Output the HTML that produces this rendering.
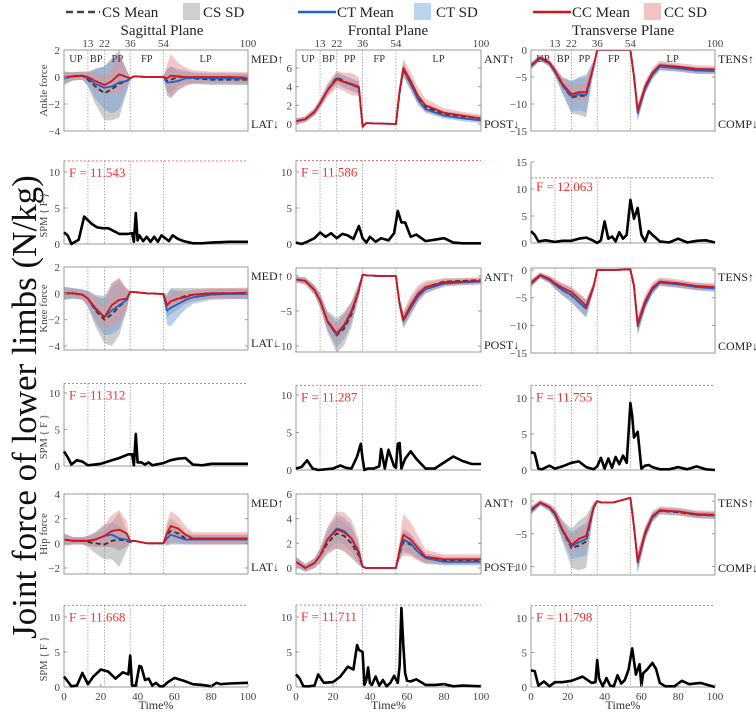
<!DOCTYPE html>
<html><head><meta charset="utf-8"><style>
body{margin:0;background:#fff;}
svg{display:block;font-family:"Liberation Serif",serif;}
</style></head><body>
<svg id="chart" width="756" height="714" viewBox="0 0 756 714" xmlns="http://www.w3.org/2000/svg">
<g font-size="15" fill="#222">
 <line x1="66" y1="12" x2="100" y2="12" stroke="#444" stroke-width="2.5" stroke-dasharray="7,4"/><text x="102" y="17">CS Mean</text>
 <rect x="183" y="3" width="17" height="17" fill="#cfcfcf"/><text x="203" y="17">CS SD</text>
 <line x1="298" y1="12" x2="336" y2="12" stroke="#1f62c8" stroke-width="2.5"/><text x="337" y="17">CT Mean</text>
 <rect x="414" y="3" width="17" height="17" fill="#bcd5ee"/><text x="436" y="17">CT SD</text>
 <line x1="533" y1="12" x2="571" y2="12" stroke="#d4141a" stroke-width="2.5"/><text x="572" y="17">CC Mean</text>
 <rect x="644" y="3" width="17" height="17" fill="#f2c3c3"/><text x="664" y="17">CC SD</text>
</g>
<g font-size="15" fill="#222" text-anchor="middle">
 <text x="162" y="35">Sagittal Plane</text>
 <text x="388" y="35">Frontal Plane</text>
 <text x="623" y="35">Transverse Plane</text>
</g>
<text transform="translate(36,407) rotate(-90)" text-anchor="middle" font-size="35" fill="#111">Joint force of lower limbs (N/kg)</text>
<g id="plots"></g>
</svg>
<script>
const T = [0,5,10,13,17,22,26,30,34,36,38,45,54,56,58,62,66,70,80,90,100];
const phases = [13,22,36,54];
// ankle sagittal
const aSagCS=[-0.1,0.05,0.1,-0.2,-0.7,-1.2,-0.9,-0.5,-0.3,-0.1,0.05,0,0,-0.3,-0.2,0,0,-0.1,-0.2,-0.2,-0.2];
const aSagCSsd=[0.5,0.3,0.3,0.5,1.3,2.0,2.3,2.5,0.8,0.1,0.05,0.05,0.05,0.8,1.0,0.6,0.5,0.4,0.4,0.4,0.4];
const aSagCT=[-0.1,0.05,0.1,-0.1,-0.5,-0.8,-0.7,-0.4,-0.3,-0.1,0.05,0,0,-0.4,-0.4,-0.3,-0.1,-0.05,-0.1,-0.1,-0.15];
const aSagCTsd=[0.4,0.3,0.3,0.5,1.1,1.6,2.0,2.0,0.8,0.1,0.05,0.05,0.05,1.0,1.2,0.7,0.5,0.4,0.4,0.4,0.4];
const aSagCC=[0,0.05,0.1,0,-0.3,-0.6,-0.3,0.2,0,-0.1,0.05,0,0,-0.1,0.1,0.05,0,0,0,0,-0.05];
const aSagCCsd=[0.4,0.3,0.3,0.4,0.6,0.7,0.9,1.5,0.5,0.1,0.05,0.05,0.05,1.0,1.6,1.0,0.7,0.5,0.4,0.4,0.4];
// ankle frontal
const aFrCS=[0.3,0.5,1.3,2.2,3.6,5.0,4.6,4.2,3.9,-0.3,0.1,0.05,0,3.3,5.8,4.3,2.8,1.8,1.1,0.8,0.6];
const aFrCSsd=[0.3,0.3,0.4,0.4,0.5,0.5,0.6,0.6,0.6,0.2,0.1,0.05,0.05,0.5,0.6,0.6,0.5,0.4,0.3,0.3,0.3];
const aFrCT=[0.3,0.5,1.3,2.2,3.6,4.9,4.5,4.2,3.9,-0.3,0.1,0.05,0,3.4,5.9,4.3,2.6,1.6,0.9,0.6,0.4];
const aFrCTsd=[0.3,0.3,0.4,0.5,0.6,0.6,0.7,0.7,0.7,0.2,0.1,0.05,0.05,0.6,0.7,0.7,0.6,0.4,0.3,0.3,0.3];
const aFrCC=[0.3,0.5,1.3,2.2,3.6,4.8,4.5,4.3,4.0,-0.3,0.1,0.05,0,3.6,6.0,4.6,3.0,2.0,1.2,0.9,0.6];
const aFrCCsd=[0.3,0.3,0.4,0.5,0.7,0.9,1.0,1.2,1.0,0.2,0.1,0.05,0.05,0.6,1.0,1.0,0.9,0.7,0.5,0.4,0.4];
// ankle transverse
const aTrCS=[-3,-1.5,-2.5,-4,-6.5,-8.8,-8.5,-8.5,-3,0,0,0,0,-5,-11.5,-7,-4.5,-3,-3.4,-3.8,-3.8];
const aTrCSsd=[0.6,0.5,0.6,0.8,1.5,3.0,3.5,4.0,1.0,0.1,0.05,0.05,0.05,1.0,1.2,1.0,0.8,0.7,0.6,0.6,0.6];
const aTrCT=[-3,-1.5,-2.5,-4,-6.5,-8.6,-8.2,-8.3,-3,0,0,0,0,-5,-11.7,-7.2,-4.6,-3.1,-3.4,-3.8,-3.9];
const aTrCTsd=[0.6,0.5,0.6,0.8,1.4,2.8,3.0,3.2,1.0,0.1,0.05,0.05,0.05,1.0,1.5,1.0,0.8,0.7,0.6,0.6,0.6];
const aTrCC=[-2.8,-1.4,-2.3,-3.8,-6.2,-8.2,-7.8,-7.8,-3,0,0,0,0,-4.8,-11.2,-6.8,-4.2,-2.8,-3.1,-3.5,-3.6];
const aTrCCsd=[0.6,0.5,0.6,0.8,1.0,1.3,1.5,1.7,1.0,0.1,0.05,0.05,0.05,1.0,1.2,1.0,0.9,0.8,0.7,0.7,0.7];
// knee sagittal
const kSagCS=[0,0,-0.1,-0.4,-1.3,-2.0,-1.6,-1.0,-0.5,0.1,0.1,0,-0.05,-0.9,-0.6,-0.4,-0.2,-0.1,0,0,-0.05];
const kSagCSsd=[0.5,0.4,0.4,0.6,1.2,1.8,2.4,2.2,0.8,0.1,0.05,0.05,0.05,0.9,1.0,0.8,0.6,0.5,0.4,0.4,0.4];
const kSagCT=[0,0,-0.1,-0.4,-1.2,-1.8,-1.3,-0.9,-0.5,0.1,0.1,0,-0.05,-1.3,-1.1,-0.8,-0.5,-0.3,-0.1,-0.05,-0.05];
const kSagCTsd=[0.5,0.4,0.4,0.6,1.0,1.4,1.8,1.8,0.8,0.1,0.05,0.05,0.05,1.1,1.4,1.0,0.7,0.5,0.4,0.4,0.4];
const kSagCC=[0,0,-0.1,-0.4,-1.1,-1.8,-0.9,-0.5,-0.4,0.1,0.1,0,-0.05,-0.9,-0.6,-0.4,-0.3,-0.1,0,0,0.05];
const kSagCCsd=[0.4,0.3,0.3,0.5,0.8,0.9,1.6,1.6,0.8,0.1,0.05,0.05,0.05,0.6,0.6,0.5,0.4,0.4,0.4,0.4,0.4];
// knee frontal
const kFrCS=[-0.5,-0.7,-2,-3.5,-6.5,-8.5,-7.5,-5.5,-2,0.2,0.1,0,0,-4,-6.2,-4.3,-2.6,-1.6,-0.8,-0.7,-0.6];
const kFrCSsd=[0.4,0.5,0.7,1.0,1.5,2.5,2.4,1.8,1.0,0.1,0.05,0.05,0.05,0.8,1.0,1.0,0.8,0.6,0.4,0.4,0.4];
const kFrCT=[-0.5,-0.7,-2,-3.5,-6.5,-8.4,-7.2,-5.2,-2,0.2,0.1,0,0,-4,-6.4,-4.6,-2.9,-1.9,-1.1,-0.9,-0.8];
const kFrCTsd=[0.4,0.5,0.7,1.0,1.3,1.8,1.8,1.5,1.0,0.1,0.05,0.05,0.05,0.8,1.1,1.0,0.8,0.6,0.4,0.4,0.4];
const kFrCC=[-0.5,-0.7,-2,-3.5,-6.4,-8.2,-7.0,-5.0,-2,0.2,0.1,0,0,-4,-6.2,-4.2,-2.5,-1.6,-0.9,-0.8,-0.7];
const kFrCCsd=[0.4,0.5,0.7,1.0,1.2,1.3,1.4,1.4,1.0,0.1,0.05,0.05,0.05,0.8,1.2,1.4,1.2,0.9,0.6,0.5,0.5];
// knee transverse
const kTrCS=[-2.5,-1,-1.8,-2.6,-3.6,-4.6,-5.8,-7.0,-3,0,0,0,0.1,-3,-10,-6,-3.5,-2.2,-2.6,-3,-3.2];
const kTrCSsd=[0.6,0.5,0.6,0.8,1.0,1.3,1.5,1.6,0.8,0.1,0.05,0.05,0.05,1.0,1.5,1.0,0.8,0.6,0.6,0.6,0.6];
const kTrCT=[-2.5,-1,-1.8,-2.6,-3.6,-4.5,-5.8,-7.0,-3,0,0,0,0.1,-3,-10.2,-6.2,-3.6,-2.3,-2.6,-3.1,-3.3];
const kTrCTsd=[0.6,0.5,0.6,0.8,1.0,1.2,1.4,1.5,0.8,0.1,0.05,0.05,0.05,1.0,1.6,1.0,0.8,0.6,0.6,0.6,0.6];
const kTrCC=[-2.3,-0.9,-1.6,-2.4,-3.2,-4.0,-5.2,-6.5,-3,0,0,0,0.1,-2.8,-9.8,-5.6,-3.2,-2.1,-2.4,-2.9,-3.1];
const kTrCCsd=[0.6,0.5,0.6,0.8,0.9,1.0,1.1,1.2,0.8,0.1,0.05,0.05,0.05,1.0,1.4,1.2,1.0,0.8,0.7,0.7,0.7];
// hip sagittal
const hSagCS=[0.3,0.2,0.2,0.1,0,-0.1,0.2,0.3,0.2,0.1,0.2,0,0,0.7,1.0,0.8,0.4,0.3,0.3,0.3,0.3];
const hSagCSsd=[0.5,0.3,0.3,0.4,0.8,1.2,1.5,2.2,0.8,0.1,0.05,0.05,0.05,0.8,1.0,0.8,0.5,0.4,0.4,0.4,0.4];
const hSagCT=[0.3,0.2,0.2,0.2,0.3,0.6,0.7,0.4,0.3,0.1,0.2,0,0,0.4,0.7,0.5,0.3,0.3,0.3,0.3,0.3];
const hSagCTsd=[0.4,0.3,0.3,0.4,0.6,0.9,1.0,1.0,0.6,0.1,0.05,0.05,0.05,0.6,0.8,0.6,0.4,0.4,0.4,0.4,0.4];
const hSagCC=[0.3,0.2,0.2,0.2,0.3,0.6,1.0,1.1,0.8,0.2,0.2,0,0,0.8,1.4,1.2,0.7,0.4,0.4,0.4,0.4];
const hSagCCsd=[0.5,0.3,0.3,0.4,0.6,0.9,1.3,1.6,1.0,0.1,0.05,0.05,0.05,0.9,1.2,1.0,0.7,0.5,0.5,0.5,0.5];
// hip frontal
const hFrCS=[0.5,0,0.4,1,2.0,2.8,2.6,2.0,1.0,0.1,0,0,0,1.2,2.1,1.9,1.3,0.8,0.6,0.6,0.6];
const hFrCSsd=[0.4,0.3,0.4,0.6,0.9,1.2,1.2,1.2,0.8,0.1,0.05,0.05,0.05,0.6,0.9,0.8,0.6,0.4,0.3,0.3,0.3];
const hFrCT=[0.5,0,0.4,1,2.3,3.2,3.0,2.4,1.2,0.1,0,0,0,1.3,2.3,2.0,1.3,0.8,0.5,0.5,0.5];
const hFrCTsd=[0.4,0.3,0.4,0.6,0.9,1.1,1.1,1.1,0.8,0.1,0.05,0.05,0.05,0.6,0.9,0.8,0.6,0.4,0.3,0.3,0.3];
const hFrCC=[0.5,0,0.4,1,2.3,3.1,2.9,2.4,1.3,0.1,0,0,0,1.5,2.7,2.3,1.6,0.9,0.7,0.7,0.7];
const hFrCCsd=[0.4,0.3,0.4,0.6,1.0,1.5,1.6,1.5,1.0,0.1,0.05,0.05,0.05,0.8,1.7,1.4,1.0,0.6,0.4,0.4,0.4];
// hip transverse
const hTrCS=[-1.5,-0.3,-1,-2,-4.5,-7.2,-6.8,-6.2,-1,0,-0.2,-0.2,0.5,-4,-9.3,-5,-2.5,-1.5,-1.7,-2.1,-2.2];
const hTrCSsd=[0.6,0.4,0.5,0.8,1.6,3.0,3.8,4.0,0.8,0.1,0.05,0.05,0.05,1.0,1.5,1.0,0.7,0.5,0.5,0.5,0.5];
const hTrCT=[-1.5,-0.3,-1,-2,-4.5,-6.9,-6.3,-5.8,-1,0,-0.2,-0.2,0.5,-4,-9.4,-5.1,-2.5,-1.5,-1.6,-2.1,-2.2];
const hTrCTsd=[0.6,0.4,0.5,0.8,1.4,2.0,2.3,2.5,0.8,0.1,0.05,0.05,0.05,1.0,1.6,1.0,0.7,0.5,0.5,0.5,0.5];
const hTrCC=[-1.3,-0.2,-0.9,-1.8,-4.3,-6.7,-5.8,-5.3,-1,0,-0.2,-0.2,0.5,-3.8,-9.2,-4.8,-2.3,-1.4,-1.6,-2.0,-2.1];
const hTrCCsd=[0.6,0.4,0.5,0.8,1.1,1.3,1.5,1.6,0.8,0.1,0.05,0.05,0.05,1.0,1.3,1.0,0.8,0.6,0.6,0.6,0.6];
// SPM curves
const spm1T=[0,2,4,8,11,13,15,18,21,24,30,35,37,38,39,40,41,43,45,47,49,51,53,55,57,59,62,65,70,75,80,90,100];
const spm1F=[1.6,1.2,0,0.6,3.8,3.3,2.8,2.3,2.2,2.2,1.4,1.4,1.5,0.3,4.3,0.5,1.2,0.4,1.0,0.3,1.0,0.3,1.2,0.8,0.4,1.2,0.7,0.4,0.1,0.1,0.2,0.3,0.3];
const spm2T=[0,3,6,10,13,16,19,22,25,28,31,34,36,38,40,43,46,50,53,55,57,59,62,65,70,75,80,85,90,100];
const spm2F=[0.2,0,0.3,0.8,1.6,1.0,1.5,0.8,1.4,1.2,0.7,2.5,0.8,0.2,1.0,0.3,0.8,0.5,1.5,4.6,3.0,3.0,1.0,1.3,0.4,0.6,0.8,0.2,0.1,0.1];
const spm3T=[0,2,4,8,13,17,22,26,30,34,36,38,40,42,44,46,48,50,52,54,56,58,60,62,64,66,70,75,80,85,90,95,100];
const spm3F=[2.2,1.5,0.3,0.5,0.2,0.4,0.4,0.8,1.0,0.4,0,0.5,4.0,0.8,1.2,0.3,2.0,0.8,1.5,8.0,4.5,6.5,1.5,0.3,2.2,1.5,0.3,0.1,0.8,0.1,0.4,0.5,0.1];
const spm4T=[0,2,4,7,10,13,20,25,30,35,37,38,39,40,42,44,46,48,50,54,58,62,66,70,75,80,90,100];
const spm4F=[2,1.2,0.2,0.8,0.6,0.1,0.3,0.7,1.1,1.6,1.6,0.1,4.4,0.5,0.5,0.2,0.5,0.1,0.2,0.4,0.8,1.0,1.1,0.2,0.1,0.3,0.3,0.3];
const spm5T=[0,3,6,9,12,16,20,24,27,30,33,35,36,37,39,42,45,46,48,50,53,54,55,56,57,59,62,65,70,75,80,85,90,95,100];
const spm5F=[0.2,0.4,1.3,0.2,0,0.1,0.2,0.6,0.3,0.2,1.8,3.5,1.5,0,0.2,0.2,0.5,2.8,0.2,2.7,0.5,0.3,3.5,3.6,0.2,1.5,2.5,1.5,0.2,0.2,1.0,1.8,1.2,0.8,0.8];
const spm6T=[0,2,4,6,10,13,17,22,26,30,34,36,38,40,42,44,46,48,50,52,54,55,56,58,60,62,64,66,70,75,80,85,90,95,100];
const spm6F=[2.5,2.3,0.2,0.1,0.6,0.2,0.5,1.0,1.2,0.4,0.1,0.5,1.7,0.2,1.6,0.3,1.8,0.8,2.0,1.0,9.3,7.5,4.5,5.3,0.2,0.6,0.7,0.4,0.1,0.1,0.4,0.1,0.5,0.1,0];
const spm7T=[0,2,4,7,10,13,16,20,24,28,32,35,36,37,39,41,42,44,46,48,50,52,54,56,60,65,70,75,80,83,85,90,100];
const spm7F=[1.5,0.8,0.1,0.2,2.0,0.4,1.5,2.5,2.2,1.2,2.1,1.8,4.5,0.2,0.2,3.0,2.9,1.0,1.2,0.2,0.6,0.1,0.1,0.6,1.3,0.9,0.4,0.3,0.1,0.6,0.4,0.5,0.6];
const spm8T=[0,2,4,7,10,12,15,20,24,28,31,33,34,36,37,38,39,40,41,43,45,47,49,51,53,55,56,57,58,59,60,62,65,70,75,80,85,90,100];
const spm8F=[1.8,1.2,0.1,0.1,0.2,1.8,0.6,0.7,1.5,2.9,2.5,6.0,5.3,5.0,0.3,1.0,2.8,0.5,0.3,1.5,0.2,1.0,0.1,0.6,1.6,0.6,3.0,11.3,6.0,2.0,0.9,0.8,1.1,0.3,0.3,0.4,0.1,0.2,0.1];
const spm9T=[0,2,4,7,10,13,17,22,28,33,35,36,37,39,41,43,45,47,49,51,53,55,57,59,60,61,63,66,68,70,73,78,82,86,92,100];
const spm9F=[2.4,2.3,0.2,0.8,0.1,0.7,0.7,0.9,1.5,0.6,0.7,3.9,1.2,0.1,1.3,0.2,0.1,1.7,0.5,1.0,2.5,5.6,1.8,3.3,0.2,2.0,2.5,3.5,2.6,0.6,0.1,0.1,0.9,0.4,0.6,0];
const thresholds=[11.543,11.586,12.063,11.312,11.287,11.755,11.668,11.711,11.798];

const NS="http://www.w3.org/2000/svg";
const root=document.getElementById('plots');
function mk(tag,attrs,parent){const e=document.createElementNS(NS,tag);for(const k in attrs)e.setAttribute(k,attrs[k]);(parent||root).appendChild(e);return e;}
const COLS=[[64,248],[296,481],[531,715]];
function xs(c,t){return COLS[c][0]+(COLS[c][1]-COLS[c][0])*t/100;}

const forcePanels=[
 {c:0,top:50,bot:131,vmin:-4,vmax:2,ticks:[2,0,-2,-4],label:'Ankle force',up:'MED↑',dn:'LAT↓',d:[aSagCS,aSagCSsd,aSagCT,aSagCTsd,aSagCC,aSagCCsd],name:'ankle-sagittal'},
 {c:1,top:50,bot:131,vmin:-0.75,vmax:7.93,ticks:[6,4,2,0],up:'ANT↑',dn:'POST↓',d:[aFrCS,aFrCSsd,aFrCT,aFrCTsd,aFrCC,aFrCCsd],name:'ankle-frontal'},
 {c:2,top:50,bot:131,vmin:-15,vmax:0,ticks:[0,-5,-10,-15],up:'TENS↑',dn:'COMP↓',d:[aTrCS,aTrCSsd,aTrCT,aTrCTsd,aTrCC,aTrCCsd],name:'ankle-transverse'},
 {c:0,top:267,bot:350,vmin:-4.3,vmax:2,ticks:[2,0,-2,-4],label:'Knee force',up:'MED↑',dn:'LAT↓',d:[kSagCS,kSagCSsd,kSagCT,kSagCTsd,kSagCC,kSagCCsd],name:'knee-sagittal'},
 {c:1,top:268,bot:352,vmin:-10.86,vmax:1.14,ticks:[0,-5,-10],up:'ANT↑',dn:'POST↓',d:[kFrCS,kFrCSsd,kFrCT,kFrCTsd,kFrCC,kFrCCsd],name:'knee-frontal'},
 {c:2,top:268,bot:353,vmin:-15,vmax:0.36,ticks:[0,-5,-10,-15],up:'TENS↑',dn:'COMP↓',d:[kTrCS,kTrCSsd,kTrCT,kTrCTsd,kTrCC,kTrCCsd],name:'knee-transverse'},
 {c:0,top:494,bot:574,vmin:-2.49,vmax:4,ticks:[4,2,0,-2],label:'Hip force',up:'MED↑',dn:'LAT↓',d:[hSagCS,hSagCSsd,hSagCT,hSagCTsd,hSagCC,hSagCCsd],name:'hip-sagittal'},
 {c:1,top:494,bot:574,vmin:-0.49,vmax:6,ticks:[6,4,2,0],up:'ANT↑',dn:'POST↓',d:[hFrCS,hFrCSsd,hFrCT,hFrCTsd,hFrCC,hFrCCsd],name:'hip-frontal'},
 {c:2,top:494,bot:575,vmin:-11.3,vmax:1.08,ticks:[0,-5,-10],up:'TENS↑',dn:'COMP↓',d:[hTrCS,hTrCSsd,hTrCT,hTrCTsd,hTrCC,hTrCCsd],name:'hip-transverse'}
];
forcePanels.forEach((p,i)=>{
 const g=mk('g',{});
 
 
 const ys=v=>p.bot-(v-p.vmin)/(p.vmax-p.vmin)*(p.bot-p.top);
 const x0=COLS[p.c][0],x1=COLS[p.c][1];
 const clip=mk('clipPath',{id:'cl'+i},g);mk('rect',{x:x0,y:p.top,width:x1-x0,height:p.bot-p.top},clip);
 const pg=mk('g',{'clip-path':'url(#cl'+i+')'},g);
 const band=(m,s,fill,op,nm)=>{
  let d='M'+T.map((t,k)=>xs(p.c,t).toFixed(1)+','+ys(m[k]+s[k]).toFixed(1)).join('L');
  for(let k=T.length-1;k>=0;k--)d+='L'+xs(p.c,T[k]).toFixed(1)+','+ys(m[k]-s[k]).toFixed(1);
  const e=mk('path',{d:d+'Z',fill:fill,'fill-opacity':op},pg);
  
  
 };
 band(p.d[0],p.d[1],'#9a9a9a',0.5,'cs-sd-band');
 band(p.d[2],p.d[3],'#6f9fd6',0.5,'ct-sd-band');
 band(p.d[4],p.d[5],'#e58f8f',0.5,'cc-sd-band');
 phases.forEach(ph=>mk('line',{x1:xs(p.c,ph),x2:xs(p.c,ph),y1:p.top,y2:p.bot,stroke:'#999','stroke-width':0.8,'stroke-dasharray':'1.5,1.5'},pg));
 const line=(m,col,dash,nm)=>{
  const e=mk('path',{d:'M'+T.map((t,k)=>xs(p.c,t).toFixed(1)+','+ys(m[k]).toFixed(1)).join('L'),fill:'none',stroke:col,'stroke-width':1.8,'stroke-dasharray':dash,'stroke-linejoin':'round'},pg);
  
  
 };
 line(p.d[0],'#333','5,3','cs-mean-line');
 line(p.d[2],'#1f62c8','none','ct-mean-line');
 line(p.d[4],'#d4141a','none','cc-mean-line');
 mk('rect',{x:x0,y:p.top,width:x1-x0,height:p.bot-p.top,fill:'none',stroke:'#999','stroke-width':1},g);
 p.ticks.forEach(v=>{const y=ys(v);mk('line',{x1:x0,x2:x0+3,y1:y,y2:y,stroke:'#999'},g);mk('line',{x1:x1,x2:x1-3,y1:y,y2:y,stroke:'#999'},g);
  const t=mk('text',{x:x0-4,y:y+4,'text-anchor':'end','font-size':11,fill:'#444'},g);t.textContent=(v<0?'−'+(-v):v);});
 if(p.label){const t=mk('text',{transform:`translate(${x0-17},${(p.top+p.bot)/2}) rotate(-90)`,'text-anchor':'middle','font-size':11,fill:'#444'},g);t.textContent=p.label;}
 const tu=mk('text',{x:x1+3,y:p.top+13,'font-size':12,fill:'#222'},g);tu.textContent=p.up;
 const td=mk('text',{x:x1+3,y:p.bot-3,'font-size':12,fill:'#222'},g);td.textContent=p.dn;
 if(i<3){
  [13,22,36,54,100].forEach(v=>{const t=mk('text',{x:xs(p.c,v),y:p.top-3,'text-anchor':'middle','font-size':11,fill:'#444'},g);t.textContent=v;});
  [['UP',6.5],['BP',17.5],['PP',29],['FP',45],['LP',77]].forEach(a=>{const t=mk('text',{x:xs(p.c,a[1]),y:p.top+12,'text-anchor':'middle','font-size':10.5,fill:'#333'},g);t.textContent=a[0];});
 }
});

const spmPanels=[
 {c:0,zero:244,ppu:7.2,ticks:[0,5,10],t:spm1T,f:spm1F,lab:true,name:'spm-ankle-sagittal'},
 {c:1,zero:244,ppu:7.2,ticks:[0,5,10],t:spm2T,f:spm2F,name:'spm-ankle-frontal'},
 {c:2,zero:243,ppu:5.4,ticks:[0,5,10,15],t:spm3T,f:spm3F,name:'spm-ankle-transverse'},
 {c:0,zero:466,ppu:7.3,ticks:[0,5,10],t:spm4T,f:spm4F,lab:true,name:'spm-knee-sagittal'},
 {c:1,zero:470,ppu:7.5,ticks:[0,5,10],t:spm5T,f:spm5F,name:'spm-knee-frontal'},
 {c:2,zero:470,ppu:7.2,ticks:[0,5,10],t:spm6T,f:spm6F,name:'spm-knee-transverse'},
 {c:0,zero:687,ppu:7.0,ticks:[0,5,10],t:spm7T,f:spm7F,lab:true,xl:true,name:'spm-hip-sagittal'},
 {c:1,zero:687,ppu:7.0,ticks:[0,5,10],t:spm8T,f:spm8F,xl:true,name:'spm-hip-frontal'},
 {c:2,zero:687,ppu:6.9,ticks:[0,5,10],t:spm9T,f:spm9F,xl:true,name:'spm-hip-transverse'}
];
spmPanels.forEach((p,i)=>{
 const g=mk('g',{});
 
 
 const ys=v=>p.zero-v*p.ppu;
 const x0=COLS[p.c][0],x1=COLS[p.c][1];
 const thr=thresholds[i];
 const topV=Math.max(thr,p.ticks[p.ticks.length-1]);
 phases.forEach(ph=>mk('line',{x1:xs(p.c,ph),x2:xs(p.c,ph),y1:ys(thr),y2:p.zero,stroke:'#999','stroke-width':0.8,'stroke-dasharray':'1.5,1.5'},g));
 const th=mk('line',{x1:x0,x2:x1,y1:ys(thr),y2:ys(thr),stroke:'#f06060','stroke-width':0.9,'stroke-dasharray':'2,2'},g);
 
 
 const ft=mk('text',{x:x0+5,y:ys(thr)+(i==2?13:16),'font-size':13,fill:'#f03030'},g);ft.textContent='F = '+thr.toFixed(3);
 mk('line',{x1:x0,x2:x0,y1:ys(topV),y2:p.zero,stroke:'#999'},g);
 mk('line',{x1:x0,x2:x1,y1:p.zero,y2:p.zero,stroke:'#999'},g);
 p.ticks.forEach(v=>{const y=ys(v);mk('line',{x1:x0,x2:x0+3,y1:y,y2:y,stroke:'#999'},g);
  const t=mk('text',{x:x0-4,y:y+4,'text-anchor':'end','font-size':11,fill:'#444'},g);t.textContent=v;});
 const cv=mk('path',{d:'M'+p.t.map((t,k)=>xs(p.c,t).toFixed(1)+','+ys(p.f[k]).toFixed(1)).join('L'),fill:'none',stroke:'#000','stroke-width':2.6,'stroke-linejoin':'round'},g);
 
 
 if(p.lab){const t=mk('text',{transform:`translate(${x0-17},${ys(4)}) rotate(-90)`,'text-anchor':'middle','font-size':10.5,fill:'#444'},g);t.textContent='SPM { F }';}
 if(p.xl){
  [0,20,40,60,80,100].forEach(v=>{mk('line',{x1:xs(p.c,v),x2:xs(p.c,v),y1:p.zero,y2:p.zero-3,stroke:'#999'},g);
   const t=mk('text',{x:xs(p.c,v),y:p.zero+13,'text-anchor':'middle','font-size':11,fill:'#444'},g);t.textContent=v;});
  const t=mk('text',{x:(x0+x1)/2,y:709,'text-anchor':'middle','font-size':12,fill:'#333'},g);t.textContent='Time%';
 }
});
</script>
</body></html>
